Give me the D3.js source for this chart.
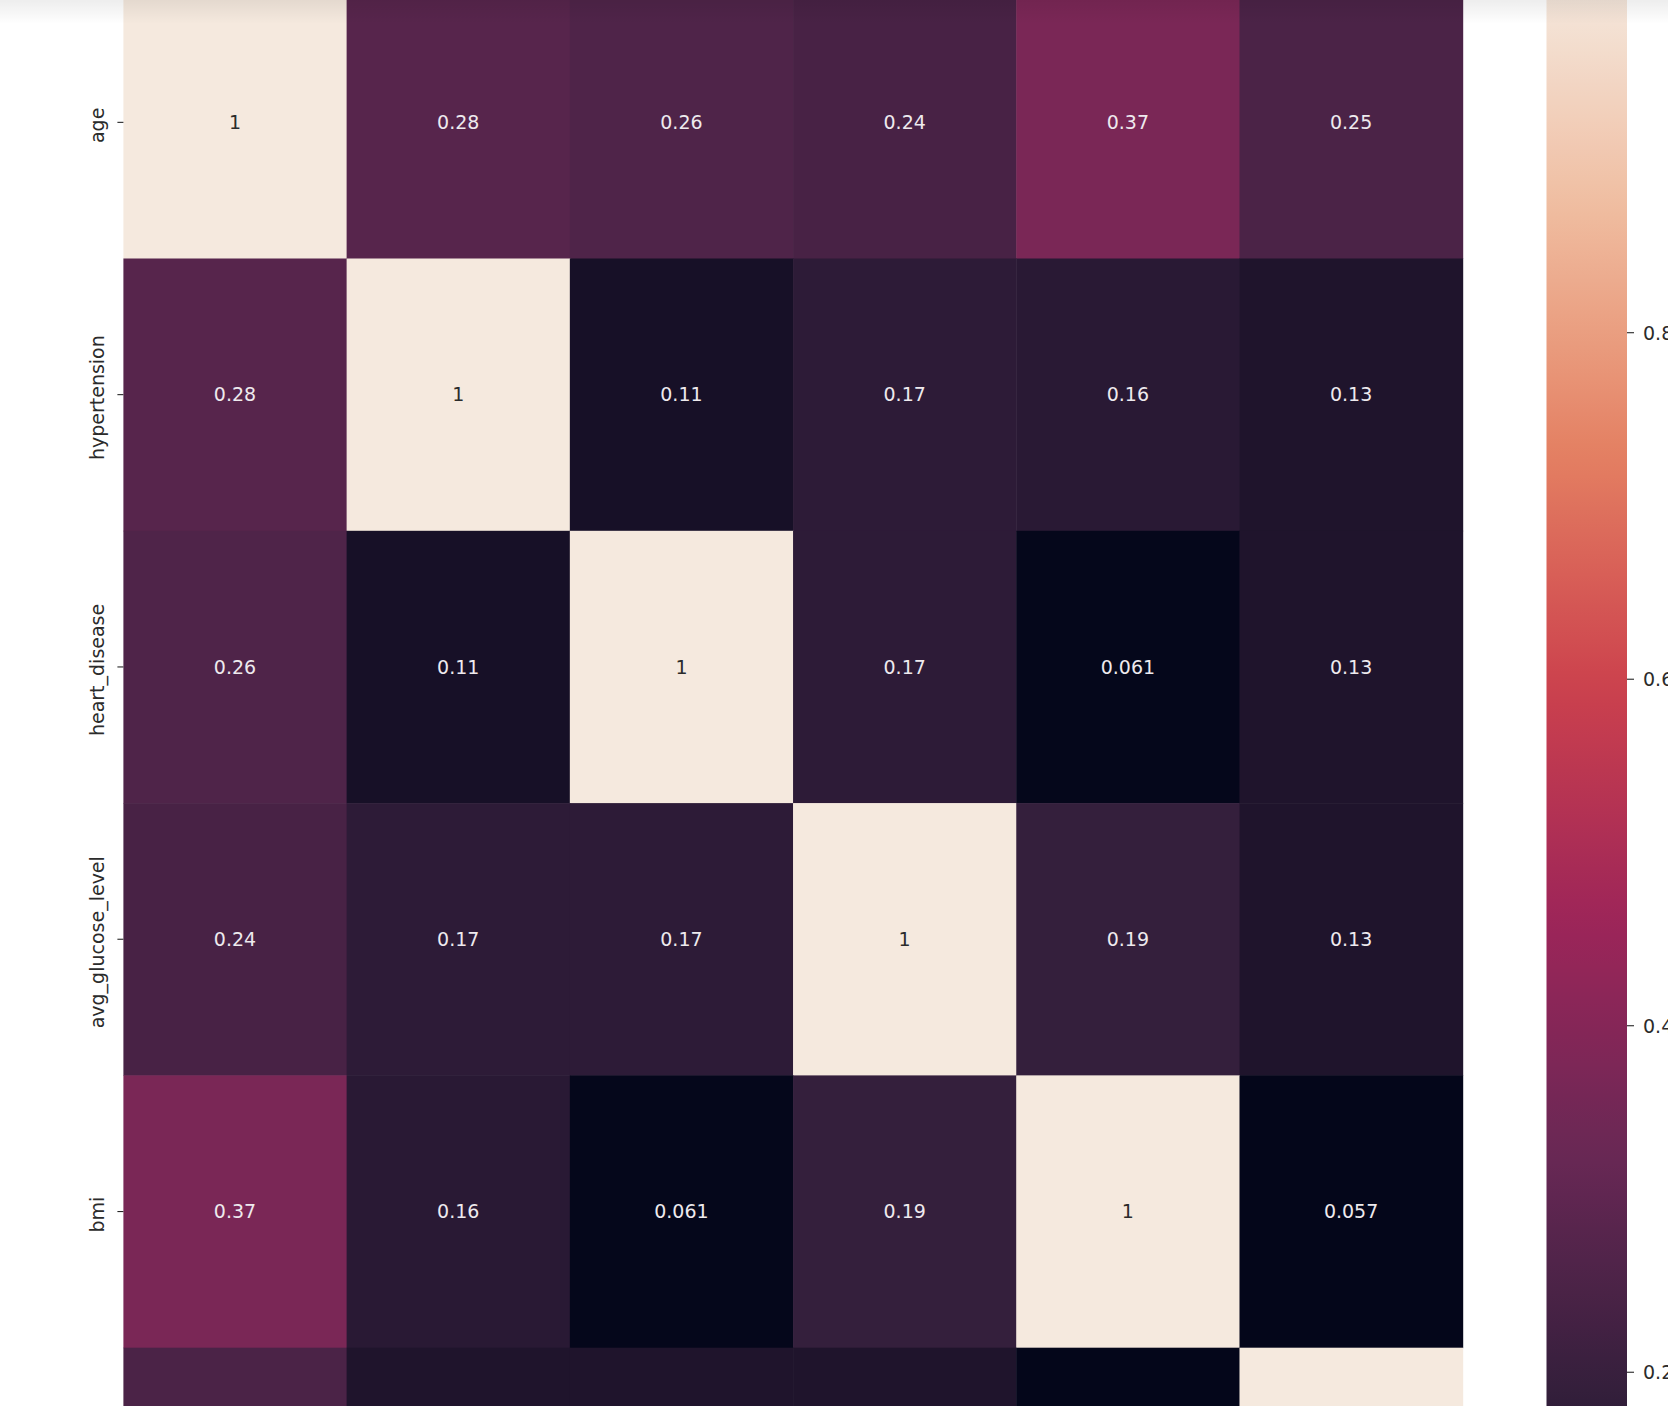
<!DOCTYPE html>
<html>
<head>
<meta charset="utf-8">
<script src="https://cdn.jsdelivr.net/npm/d3@7"></script>
<style>
  html, body { margin: 0; padding: 0; background: #ffffff; overflow: hidden; }
  svg { display: block; font-family: "DejaVu Sans", sans-serif; }
</style>
</head>
<body>
<svg id="chart" width="1668" height="1406"></svg>
<script>
// ---- data ----
const rowLabels = ["age", "hypertension", "heart_disease", "avg_glucose_level", "bmi", "stroke"];
const colLabels = ["age", "hypertension", "heart_disease", "avg_glucose_level", "bmi", "stroke"];
const rowAge          = [1,    0.28, 0.26,  0.24, 0.37,  0.25];
const rowHypertension = [0.28, 1,    0.11,  0.17, 0.16,  0.13];
const rowHeartDisease = [0.26, 0.11, 1,     0.17, 0.061, 0.13];
const rowGlucose      = [0.24, 0.17, 0.17,  1,    0.19,  0.13];
const rowBmi          = [0.37, 0.16, 0.061, 0.19, 1,     0.057];
const rowStroke       = [0.25, 0.13, 0.13,  0.13, 0.057, 1];
const colorbarTicks = [0.2, 0.4, 0.6, 0.8, 1.0];
// rocket-like colormap anchors (as rendered in the reference)
const rocketPos    = [0, 1/7, 2/7, 3/7, 4/7, 5/7, 6/7, 1];
const rocketColors = ["#04061a", "#351f3c", "#692855", "#9d2559", "#cc414d", "#e48062", "#efba9d", "#f5e9de"];

(function () {
const W = 1668, H = 1406;
const matrix = [rowAge, rowHypertension, rowHeartDisease, rowGlucose, rowBmi, rowStroke];
const cells = [];
matrix.forEach((row, i) => row.forEach((v, j) => cells.push({r: rowLabels[i], c: colLabels[j], v})));

const vmin = d3.min(cells, d => d.v), vmax = d3.max(cells, d => d.v);

const svg = d3.select("#chart");
const pLeft = 123.4, pRight = 1462.7, pTop = -13.8, pBottom = 1620;

const x = d3.scaleBand().domain(colLabels).range([pLeft, pRight]);
const y = d3.scaleBand().domain(rowLabels).range([pTop, pBottom]);
const rocket = d3.scaleLinear().domain(rocketPos).range(rocketColors).interpolate(d3.interpolateRgb);
const norm = d3.scaleLinear().domain([vmin, vmax]).range([0, 1]).clamp(true);
const color = v => rocket(norm(v));

function textColor(c) {
  const rgb = d3.rgb(c);
  const lin = u => { u /= 255; return u <= 0.03928 ? u / 12.92 : Math.pow((u + 0.055) / 1.055, 2.4); };
  const L = 0.2126 * lin(rgb.r) + 0.7152 * lin(rgb.g) + 0.0722 * lin(rgb.b);
  return L > 0.408 ? "#2b2b2b" : "#eeeaee";
}

// cells
svg.append("g").selectAll("rect").data(cells).join("rect")
  .attr("x", d => x(d.c)).attr("y", d => y(d.r))
  .attr("width", x.bandwidth() + 0.5).attr("height", y.bandwidth() + 0.5)
  .attr("fill", d => color(d.v));

// annotations (only those whose cell centre lies inside the visible frame)
const visibleCells = cells.filter(d => y(d.r) + y.bandwidth() / 2 < H - 10);
svg.append("g").selectAll("text").data(visibleCells).join("text")
  .attr("x", d => x(d.c) + x.bandwidth() / 2)
  .attr("y", d => y(d.r) + y.bandwidth() / 2)
  .attr("dy", "0.36em")
  .attr("text-anchor", "middle")
  .attr("font-size", 19)
  .attr("fill", d => textColor(color(d.v)))
  .text(d => d3.format("")(d.v));

// y axis ticks and labels
const yAxis = svg.append("g");
rowLabels.filter(lbl => y(lbl) + y.bandwidth() / 2 < H - 10).forEach(lbl => {
  const yc = y(lbl) + y.bandwidth() / 2;
  yAxis.append("line").attr("x1", pLeft - 6).attr("x2", pLeft).attr("y1", yc).attr("y2", yc)
    .attr("stroke", "#262626").attr("stroke-width", 1.1);
  yAxis.append("text")
    .attr("transform", `translate(${pLeft - 19.5},${yc + 3}) rotate(-90)`)
    .attr("text-anchor", "middle")
    .attr("font-size", 19)
    .attr("fill", "#2b2b2b")
    .text(lbl);
});

// colorbar
const cbLeft = 1546.5, cbWidth = 80.5;
const cbScale = d3.scaleLinear().domain([vmin, vmax]).range([pBottom, pTop]);
const defs = svg.append("defs");
const grad = defs.append("linearGradient").attr("id", "cbgrad")
  .attr("x1", 0).attr("y1", 1).attr("x2", 0).attr("y2", 0);
d3.range(0, 1.0001, 0.02).forEach(t => {
  grad.append("stop").attr("offset", t).attr("stop-color", rocket(t));
});
svg.append("rect").attr("x", cbLeft).attr("y", cbScale(vmax)).attr("width", cbWidth)
  .attr("height", cbScale(vmin) - cbScale(vmax)).attr("fill", "url(#cbgrad)");
const cbAxis = svg.append("g");
colorbarTicks.filter(t => cbScale(t) > 5 && cbScale(t) < H - 5).forEach(t => {
  const ty = cbScale(t);
  cbAxis.append("line").attr("x1", cbLeft + cbWidth).attr("x2", cbLeft + cbWidth + 7)
    .attr("y1", ty).attr("y2", ty).attr("stroke", "#262626").attr("stroke-width", 1.1);
  cbAxis.append("text").attr("x", cbLeft + cbWidth + 16).attr("y", ty).attr("dy", "0.36em")
    .attr("font-size", 19).attr("fill", "#2b2b2b").text(d3.format(".1f")(t));
});

// top shade
const sh = defs.append("linearGradient").attr("id", "shade").attr("x1", 0).attr("y1", 0).attr("x2", 0).attr("y2", 1);
sh.append("stop").attr("offset", 0).attr("stop-color", "#000").attr("stop-opacity", 0.07);
sh.append("stop").attr("offset", 1).attr("stop-color", "#000").attr("stop-opacity", 0);
svg.append("rect").attr("x", 0).attr("y", 0).attr("width", W).attr("height", 24).attr("fill", "url(#shade)");
})();
</script>
</body>
</html>
